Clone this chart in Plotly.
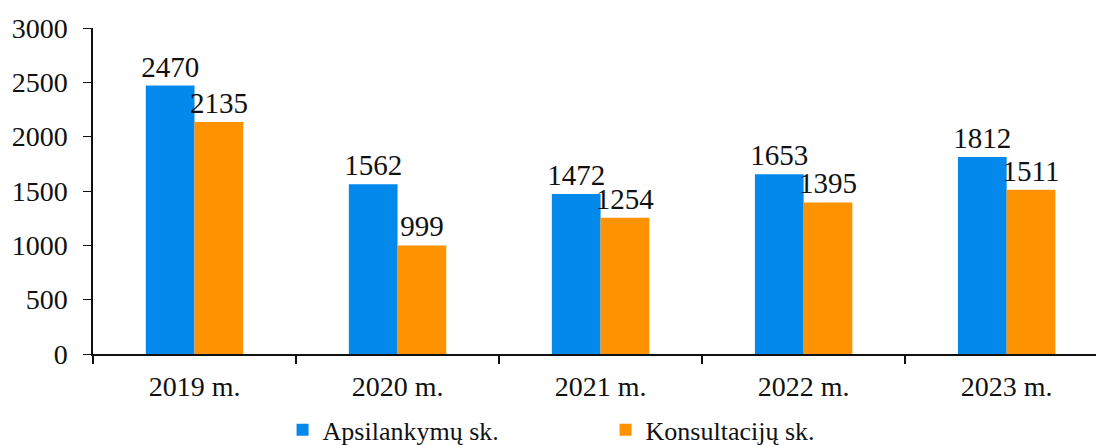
import plotly.graph_objects as go

years = ["2019 m.", "2020 m.", "2021 m.", "2022 m.", "2023 m."]
apsilankymai = [2470, 1562, 1472, 1653, 1812]
konsultacijos = [2135, 999, 1254, 1395, 1511]

FONT = "Liberation Serif"
INK = "#111"

fig = go.Figure()
fig.add_trace(go.Bar(
    name="Apsilankymų sk.", x=years, y=apsilankymai,
    marker=dict(color="#0389EC", line=dict(width=0)),
    text=[str(v) for v in apsilankymai], textposition="outside", constraintext="none",
    textfont=dict(family=FONT, size=29, color=INK), cliponaxis=False,
))
fig.add_trace(go.Bar(
    name="Konsultacijų sk.", x=years, y=konsultacijos,
    marker=dict(color="#FF9200", line=dict(width=0)),
    text=[str(v) for v in konsultacijos], textposition="outside", constraintext="none",
    textfont=dict(family=FONT, size=29, color=INK), cliponaxis=False,
))

fig.update_layout(
    width=1096, height=445,
    margin=dict(l=93, r=0, t=28, b=91, autoexpand=False),
    paper_bgcolor="white", plot_bgcolor="white",
    barmode="group", bargap=0.52, bargroupgap=0,
    font=dict(family=FONT, size=28, color=INK),
    showlegend=True,
    legend=dict(orientation="h", x=0.189, xanchor="left",
                yref="container", y=0.034, yanchor="middle",
                font=dict(family=FONT, size=26, color=INK),
                entrywidth=278, entrywidthmode="pixels", traceorder="normal"),
    xaxis=dict(range=[-0.5, 4.44], showline=True, linecolor=INK, linewidth=2,
               ticks="outside", tickson="boundaries", ticklen=8, tickcolor=INK,
               tickwidth=1.5, showgrid=False, tickfont=dict(family=FONT, size=28),
               ticklabelstandoff=6),
    yaxis=dict(range=[0, 3000], dtick=500, showline=True, linecolor=INK,
               linewidth=1.5, ticks="outside", ticklen=8, tickcolor=INK,
               showgrid=False, zeroline=False, tickfont=dict(family=FONT, size=28),
               ticklabelstandoff=10),
)
fig.write_html("out.html")
